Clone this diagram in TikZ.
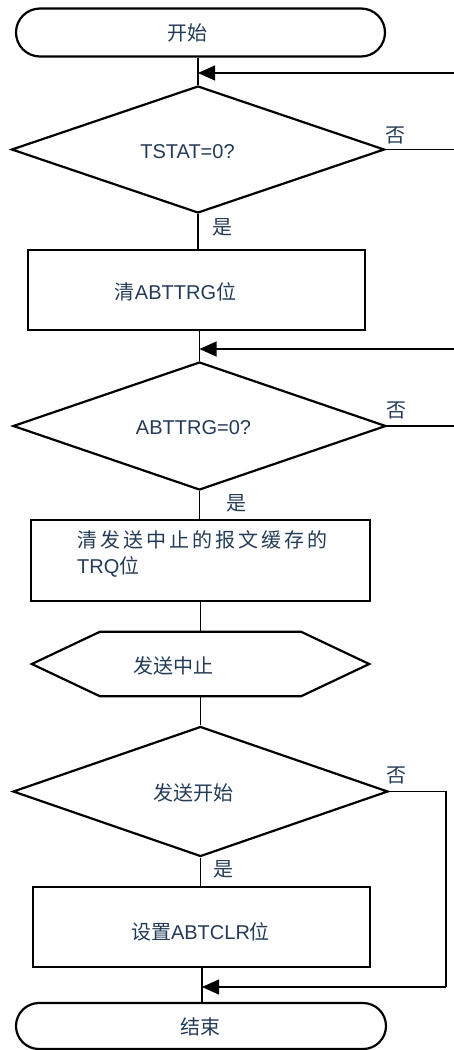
\documentclass[tikz,border=0pt]{standalone}
\usepackage{fontspec}
\setmainfont{Liberation Sans}
\newfontfamily\cjk{Noto Sans CJK SC}
\newfontfamily\cjkwide[LetterSpace=15]{Noto Sans CJK SC}
\usetikzlibrary{shapes.geometric,shapes.misc,arrows.meta}
\definecolor{txt}{HTML}{243B57}
\tikzset{
  shp/.style={draw=black,line width=2.2pt,inner sep=0pt,text=txt,font=\fontsize{20}{24}\selectfont},
  term/.style={shp,rounded rectangle,rounded rectangle arc length=180},
  proc/.style={shp,rectangle},
  dec/.style={shp,diamond},
  lbl/.style={text=txt,font=\fontsize{20}{24}\selectfont,inner sep=0pt},
  conn/.style={draw=black,line width=1.1pt},
  arr/.style={conn,-{Triangle[length=17pt,width=15pt,fill=black]}}
}
\begin{document}
\begin{tikzpicture}[x=1pt,y=1pt]
\useasboundingbox (0,0) rectangle (454,-1050);
% nodes
\node[term,minimum width=369pt,minimum height=48pt] (start) at (200.5,-32.5) {};
\node[lbl] (startt) at (187,-33) {\cjk 开始};
\node[dec,minimum width=373pt,minimum height=127pt] (d1) at (198,-149.5) {};
\node[lbl] (d1t) at (187.5,-152) {TSTAT=0?};
\node[proc,minimum width=337pt,minimum height=80pt] (b1) at (196.5,-290) {};
\node[lbl] (b1t) at (175.5,-292) {{\cjk 清}ABTTRG{\cjk 位}};
\node[dec,minimum width=373pt,minimum height=128pt] (d2) at (199.5,-426) {};
\node[lbl] (d2t) at (193.5,-428) {ABTTRG=0?};
\node[proc,minimum width=339pt,minimum height=81pt] (b2) at (200.5,-560.5) {};
\node[lbl,anchor=west] (b2a) at (77,-540) {\cjkwide 清发送中止的报文缓存的};
\node[lbl,anchor=west] (b2b) at (77,-567) {TRQ{\cjk 位}};
\node[inner sep=0pt,minimum width=337pt,minimum height=64pt] (hx) at (200.5,-664) {};
\draw[line width=2.2pt,line join=miter] (hx.west) -- ([xshift=68pt]hx.north west) -- ([xshift=-68pt]hx.north east) -- (hx.east) -- ([xshift=-68pt]hx.south east) -- ([xshift=68pt]hx.south west) -- cycle;
\node[lbl] (hxt) at (173,-666) {\cjk 发送中止};
\node[dec,minimum width=375pt,minimum height=130pt] (d3) at (200.5,-791.5) {};
\node[lbl] (d3t) at (193,-793) {\cjk 发送开始};
\node[proc,minimum width=337pt,minimum height=80pt] (b3) at (201.5,-927) {};
\node[lbl] (b3t) at (200.5,-932) {{\cjk 设置}ABTCLR{\cjk 位}};
\node[term,minimum width=370pt,minimum height=46pt] (end) at (201,-1026) {};
\node[lbl] (endt) at (200,-1027) {\cjk 结束};
% labels
\node[lbl] (n1) at (395,-135) {\cjk 否};
\node[lbl] (n2) at (396,-410) {\cjk 否};
\node[lbl] (n3) at (396,-775) {\cjk 否};
\node[lbl] (y1) at (222,-227) {\cjk 是};
\node[lbl] (y2) at (236,-503) {\cjk 是};
\node[lbl] (y3) at (223,-869) {\cjk 是};
% coordinates
\coordinate (m1) at (198,-73);
\coordinate (r1) at (454,-73);
\coordinate (e1) at (454,-149.5);
\coordinate (m2) at (199.5,-349);
\coordinate (r2) at (454,-349);
\coordinate (e2) at (454,-426);
\coordinate (c3a) at (446,-791.5);
\coordinate (c3b) at (446,-987);
\coordinate (m3) at (202,-987);
% connectors
\draw[conn] (d1.north |- start.south) -- (d1.north);
\draw[arr] (r1) -- (m1);
\draw[conn] (d1.east) -- (e1);
\draw[conn] (d1.south) -- (b1.north -| d1.south);
\draw[conn] (b1.south -| d2.north) -- (d2.north);
\draw[arr] (r2) -- (m2);
\draw[conn] (d2.east) -- (e2);
\draw[conn] (d2.south) -- (b2.north -| d2.south);
\draw[conn] (b2.south) -- (hx.north);
\draw[conn] (hx.south) -- (d3.north);
\draw[conn] (d3.south) -- (b3.north -| d3.south);
\draw[conn] (d3.east) -- (c3a) -- (c3b);
\draw[arr] (c3b) -- (m3);
\draw[conn] (b3.south -| m3) -- (end.north -| m3);
\end{tikzpicture}
\end{document}
